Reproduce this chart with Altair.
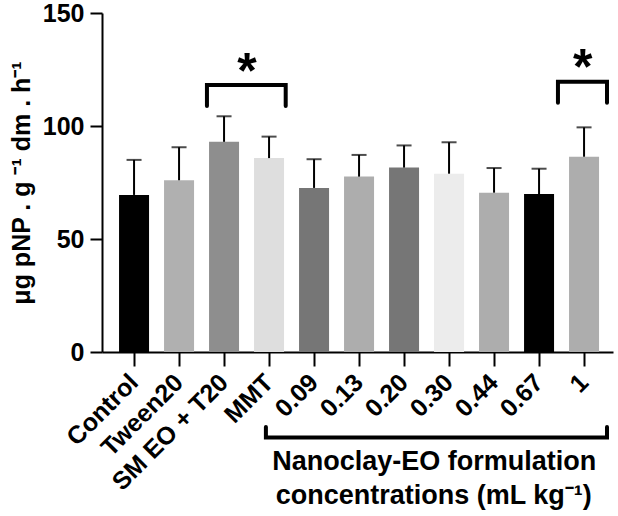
import altair as alt
import pandas as pd

# ---- data ----
categories = ["Control", "Tween20", "SM EO + T20", "MMT", "0.09", "0.13",
              "0.20", "0.30", "0.44", "0.67", "1"]
means = [69.5, 76.0, 93.0, 85.8, 72.6, 77.6, 81.6, 78.9, 70.5, 69.9, 86.4]
sds = [15.5, 14.6, 11.3, 9.5, 12.7, 9.6, 9.8, 13.9, 10.9, 11.2, 13.0]

# significance brackets (x in category-index units, y in data units)
bracket_id = ["a", "a", "a", "a", "b", "b", "b", "b", "c", "c", "c", "c"]
bracket_ord = [0, 1, 2, 3, 0, 1, 2, 3, 0, 1, 2, 3]
bracket_x = [1.62, 1.62, 3.37, 3.37, 9.42, 9.42, 10.51, 10.51, 2.93, 2.93, 10.51, 10.51]
bracket_y = [108.8, 118.1, 118.1, 108.8, 110.3, 119.6, 119.6, 110.3, -33.2, -37.8, -37.8, -33.2]

star_x = [2.51, 9.97]
star_y = [117.0, 118.5]

note_text = ["Nanoclay-EO formulation", "concentrations (mL kg⁻¹)"]
note_x = [6.67, 6.66]
note_y = [-52.2, -67.3]

bar_colors = ["#000000", "#b0b0b0", "#8e8e8e", "#dedede", "#767676", "#adadad",
              "#767676", "#ececec", "#adadad", "#000000", "#adadad"]

FONT = "Liberation Sans"
W, H = 511, 339
N = len(categories)
P_IN, P_OUT, ALIGN = 1 / 3, 0.3444, 0.55
step = W / (N - P_IN + 2 * P_OUT)
first_center = (W - step * (N - P_IN)) * ALIGN + step * (1 - P_IN) / 2
idx_domain = [-first_center / step, (W - first_center) / step]

df = pd.DataFrame({"cat": categories, "mean": means, "sd": sds})
df["upper"] = df["mean"] + df["sd"]

br = pd.DataFrame({"id": bracket_id, "ord": bracket_ord, "x": bracket_x, "y": bracket_y})
st = pd.DataFrame({"x": star_x, "y": star_y, "t": ["*"] * len(star_x)})
nt = pd.DataFrame({"x": note_x, "y": note_y, "t": note_text})

yscale = alt.Scale(domain=[0, 150], nice=False)
xband = alt.Scale(domain=categories, paddingInner=P_IN, paddingOuter=P_OUT, align=ALIGN)

xenc = alt.X("cat:N", scale=xband, sort=categories, title=None,
             axis=alt.Axis(labelAngle=-45, labelAlign="right", labelBaseline="middle",
                           labelFontSize=25, labelPadding=12, tickSize=14))

bars = alt.Chart(df).mark_bar().encode(
    x=xenc,
    y=alt.Y("mean:Q", scale=yscale, title="μg pNP . g ⁻¹ dm . h⁻¹",
            axis=alt.Axis(values=[0, 50, 100, 150], tickSize=12, labelFontSize=25,
                          labelPadding=6, titleFontSize=25, titlePadding=8)),
    color=alt.Color("cat:N", scale=alt.Scale(domain=categories, range=bar_colors), legend=None),
)
err = alt.Chart(df).mark_rule(color="black", strokeWidth=2).encode(
    x=alt.X("cat:N", scale=xband, sort=categories),
    y=alt.Y("mean:Q", scale=yscale),
    y2="upper:Q",
)
caps = alt.Chart(df).mark_tick(color="black", thickness=2, size=15).encode(
    x=alt.X("cat:N", scale=xband, sort=categories),
    y=alt.Y("upper:Q", scale=yscale),
)
base = alt.layer(bars, err, caps)

xq = alt.Scale(domain=idx_domain, nice=False, zero=False)
brackets = alt.Chart(br).mark_line(color="black", strokeWidth=4, strokeCap="round",
                                   strokeJoin="miter").encode(
    x=alt.X("x:Q", scale=xq, axis=None),
    y=alt.Y("y:Q", scale=yscale, axis=None),
    detail="id:N",
    order="ord:Q",
)
stars = alt.Chart(st).mark_text(font=FONT, fontWeight="bold", fontSize=50,
                                baseline="alphabetic", color="black").encode(
    x=alt.X("x:Q", scale=xq, axis=None),
    y=alt.Y("y:Q", scale=yscale, axis=None),
    text="t:N",
)
notes = alt.Chart(nt).mark_text(font=FONT, fontWeight="bold", fontSize=27,
                                baseline="alphabetic", color="black").encode(
    x=alt.X("x:Q", scale=xq, axis=None),
    y=alt.Y("y:Q", scale=yscale, axis=None),
    text="t:N",
)
annot = alt.layer(brackets, stars, notes)

chart = alt.layer(base, annot).resolve_scale(x="independent").resolve_axis(
    x="independent", y="independent"
).properties(
    width=W, height=H,
    autosize=alt.AutoSizeParams(type="none"),
    padding={"left": 102, "top": 13, "right": 5, "bottom": 164},
).configure_axis(
    labelFont=FONT, labelFontWeight="bold", labelColor="black",
    titleFont=FONT, titleFontWeight="bold", titleColor="black",
    domainColor="black", domainWidth=2, tickColor="black", tickWidth=2, grid=False,
).configure_view(stroke=None)

chart.save("out.html", embed_options={"renderer": "svg", "actions": False})
